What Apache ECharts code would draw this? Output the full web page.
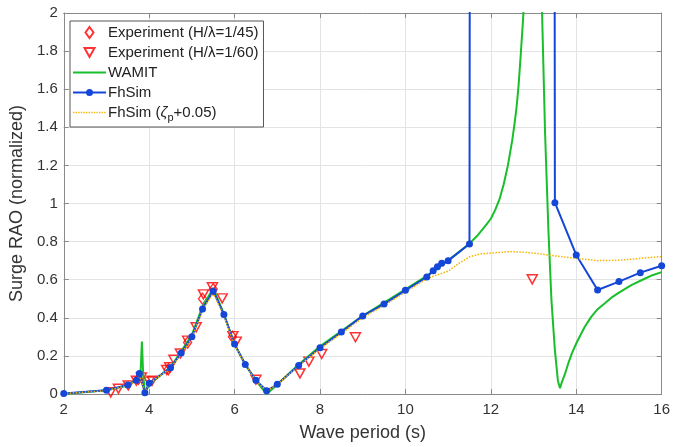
<!DOCTYPE html>
<html>
<head>
<meta charset="utf-8">
<script src="https://cdn.jsdelivr.net/npm/echarts@6/dist/echarts.min.js"></script>
<style>
  html, body { margin: 0; padding: 0; background: #fff; }
  #chart { width: 673px; height: 447px; }
</style>
</head>
<body>
<div id="chart"></div>
<script>
// experiments
const exp45T = [3.75, 4.45, 4.9, 5.25, 5.5, 5.95]
const exp45V = [0.08, 0.13, 0.27, 0.5, 0.55, 0.3]
const exp60T = [3.1, 3.28, 3.51, 3.7, 3.82, 4.0, 4.07, 4.41, 4.48, 4.58, 4.73, 4.9, 5.1, 5.27, 5.48, 5.71, 5.96, 6.04, 6.5, 7.53, 7.74, 8.04, 8.83, 12.97]
const exp60V = [0.009, 0.028, 0.045, 0.07, 0.087, 0.065, 0.07, 0.126, 0.14, 0.18, 0.213, 0.28, 0.35, 0.523, 0.56, 0.502, 0.304, 0.275, 0.075, 0.108, 0.17, 0.21, 0.298, 0.602]

// WAMIT
const wamitT = [2, 3, 3.5, 3.75, 3.8, 3.83, 3.86, 3.9, 4, 4.5, 5, 5.25, 5.5, 5.75, 6, 6.25, 6.5, 6.75, 7, 7.5, 8, 8.5, 9, 9.5, 10, 10.5, 11, 11.5, 11.7, 11.9, 12, 12.1, 12.2, 12.3, 12.4, 12.5, 12.55, 12.6, 12.65, 12.7, 12.75, 12.8, 12.9, 13, 13.1, 13.15, 13.2, 13.27, 13.35, 13.42, 13.5, 13.57, 13.62, 13.66, 13.74, 13.82, 13.9, 14, 14.1, 14.2, 14.35, 14.5, 14.67, 14.85, 15, 15.29, 15.6, 15.8, 16]
const wamitV = [0.0, 0.02, 0.045, 0.08, 0.12, 0.275, 0.1, 0.005, 0.05, 0.14, 0.31, 0.46, 0.555, 0.42, 0.26, 0.155, 0.07, 0.0, 0.05, 0.155, 0.25, 0.33, 0.41, 0.48, 0.55, 0.62, 0.7, 0.79, 0.835, 0.89, 0.92, 0.965, 1.02, 1.1, 1.2, 1.33, 1.41, 1.5, 1.62, 1.78, 1.95, 2.15, 3.2, 6, 3.2, 2.6, 2.0, 1.37, 0.85, 0.49, 0.23, 0.07, 0.03, 0.06, 0.108, 0.165, 0.215, 0.265, 0.31, 0.353, 0.405, 0.445, 0.476, 0.51, 0.532, 0.572, 0.605, 0.625, 0.64]

// FhSim
const fhT = [2, 3, 3.5, 3.7, 3.77, 3.9, 4, 4.5, 4.75, 5, 5.25, 5.5, 5.75, 6, 6.25, 6.5, 6.75, 7, 7.5, 8, 8.5, 9, 9.5, 10, 10.5, 10.65, 10.75, 10.85, 11, 11.5, 11.55, 13.45, 13.5, 14, 14.5, 15, 15.5, 16]
const fhV = [0.003, 0.02, 0.047, 0.072, 0.108, 0.007, 0.056, 0.138, 0.215, 0.3, 0.446, 0.541, 0.417, 0.262, 0.155, 0.072, 0.017, 0.051, 0.15, 0.243, 0.325, 0.41, 0.472, 0.544, 0.614, 0.647, 0.668, 0.686, 0.7, 0.787, 12, 12, 1.004, 0.73, 0.546, 0.59, 0.637, 0.673]

// FhSim (zeta_p + 0.05)
const fhzT = [2, 3, 3.5, 3.7, 3.77, 3.9, 4, 4.5, 4.75, 5, 5.25, 5.5, 5.75, 6, 6.25, 6.5, 6.75, 7, 7.5, 8, 8.5, 9, 9.5, 10, 10.5, 11, 11.25, 11.5, 11.75, 12, 12.5, 13, 13.5, 14, 14.5, 15, 15.5, 16]
const fhzV = [0.002, 0.018, 0.045, 0.07, 0.1, 0.008, 0.055, 0.135, 0.21, 0.295, 0.44, 0.53, 0.41, 0.258, 0.152, 0.07, 0.016, 0.05, 0.148, 0.238, 0.318, 0.4, 0.465, 0.535, 0.605, 0.645, 0.685, 0.72, 0.735, 0.74, 0.748, 0.74, 0.725, 0.712, 0.7, 0.702, 0.712, 0.722]

const zip = (a, b) => a.map((t, i) => [t, b[i]])

// legend icons (box 33 x 12)
const triDown = 'path://M0,0 L10,0 L5,9 Z'
const triDownLegend = 'path://M0,0 M33,12 M11.5,1.5 L21.5,1.5 L16.5,10.5 Z'
const diamondLegend = 'path://M0,0 M33,12 M16.5,0.5 L20.5,6 L16.5,11.5 L12.5,6 Z'
const solidLegend = 'path://M0,0 M33,12 M0,5 L33,5 L33,7 L0,7 Z'
const dotLineLegend = 'path://M0,0 M33,12 M0,5 L33,5 L33,7 L0,7 Z M13,6 A3.5,3.5 0 1,1 20,6 A3.5,3.5 0 1,1 13,6 Z'
let dots = 'path://M0,0 M33,12'
for (let x = 0; x < 33; x += 2.6) dots += ' M' + x + ',5.3 h1.4 v1.4 h-1.4 Z'
const dottedLegend = dots

const axisColor = '#8a8a8a'
const textColor = '#333'
const font = 'Liberation Sans, Arial, sans-serif'

const chart = echarts.init(document.getElementById('chart'))
chart.setOption({
    animation: false,
    textStyle: { fontFamily: font },
    grid: { left: 61, right: 9, top: 13, bottom: 53 },
    legend: {
        orient: 'vertical',
        left: 70,
        top: 21,
        padding: [4, 5, 4, 2],
        itemWidth: 33,
        itemHeight: 12,
        itemGap: 5,
        backgroundColor: '#fff',
        borderColor: '#555',
        borderWidth: 1,
        borderRadius: 0,
        textStyle: {
            fontSize: 15,
            color: '#222',
            padding: [0, 0, 0, -3],
            rich: {
                z: { fontSize: 15, fontStyle: 'italic', color: '#222' },
                s: { fontSize: 11, color: '#222', padding: [10, 0, 0, 0] }
            }
        },
        formatter: name => name === 'FhSim (zp)' ? 'FhSim ({z|ζ}{s|p}+0.05)' : name,
        data: [
            { name: 'Experiment (H/λ=1/45)', icon: diamondLegend },
            { name: 'Experiment (H/λ=1/60)', icon: triDownLegend },
            { name: 'WAMIT', icon: solidLegend, itemStyle: { borderWidth: 0 } },
            { name: 'FhSim', icon: dotLineLegend, itemStyle: { borderWidth: 0 } },
            { name: 'FhSim (zp)', icon: dottedLegend, itemStyle: { borderWidth: 0 } }
        ]
    },
    xAxis: [{
        type: 'value',
        min: 2,
        max: 16,
        interval: 2,
        name: 'Wave period (s)',
        nameLocation: 'middle',
        nameGap: 30,
        nameTextStyle: { fontSize: 18, color: textColor },
        axisLine: { onZero: false, lineStyle: { color: axisColor } },
        axisTick: { inside: true, length: 5, lineStyle: { color: axisColor } },
        axisLabel: { fontSize: 15, color: textColor, margin: 8 },
        splitLine: { show: true, lineStyle: { color: '#e3e3e3' } }
    }, {
        type: 'value',
        position: 'top',
        min: 2,
        max: 16,
        interval: 2,
        axisLine: { onZero: false, lineStyle: { color: axisColor } },
        axisTick: { inside: true, length: 5, lineStyle: { color: axisColor } },
        axisLabel: { show: false },
        splitLine: { show: false }
    }],
    yAxis: [{
        type: 'value',
        min: 0,
        max: 2,
        interval: 0.2,
        name: 'Surge RAO (normalized)',
        nameLocation: 'middle',
        nameGap: 33,
        nameTextStyle: { fontSize: 18, color: textColor },
        axisLine: { show: true, onZero: false, lineStyle: { color: axisColor } },
        axisTick: { show: true, inside: true, length: 5, lineStyle: { color: axisColor } },
        axisLabel: { fontSize: 15, color: textColor, margin: 6, formatter: v => String(+v.toFixed(1)) },
        splitLine: { show: true, lineStyle: { color: '#e3e3e3' } }
    }, {
        type: 'value',
        position: 'right',
        min: 0,
        max: 2,
        interval: 0.2,
        axisLine: { show: true, onZero: false, lineStyle: { color: axisColor } },
        axisTick: { show: true, inside: true, length: 5, lineStyle: { color: axisColor } },
        axisLabel: { show: false },
        splitLine: { show: false }
    }],
    series: [
        {
            name: 'Experiment (H/λ=1/45)',
            type: 'scatter',
            symbol: 'diamond',
            symbolSize: [8, 11],
            itemStyle: { color: 'rgba(0,0,0,0)', borderColor: '#ff0000', borderWidth: 1.5 },
            data: zip(exp45T, exp45V)
        },
        {
            name: 'Experiment (H/λ=1/60)',
            type: 'scatter',
            symbol: triDown,
            symbolSize: [10, 9],
            itemStyle: { color: 'rgba(0,0,0,0)', borderColor: '#ff0000', borderWidth: 1.5 },
            data: zip(exp60T, exp60V)
        },
        {
            name: 'WAMIT',
            type: 'line',
            symbol: 'none',
            color: '#19bf2a',
            lineStyle: { width: 2, color: '#19bf2a' },
            data: zip(wamitT, wamitV)
        },
        {
            name: 'FhSim',
            type: 'line',
            symbol: 'circle',
            symbolSize: 7,
            color: '#1446d8',
            itemStyle: { color: '#1446d8' },
            lineStyle: { width: 2, color: '#1446d8' },
            data: zip(fhT, fhV)
        },
        {
            name: 'FhSim (zp)',
            type: 'line',
            symbol: 'none',
            color: '#f5b400',
            lineStyle: { width: 1.5, type: 'dotted', color: '#f5b400' },
            data: zip(fhzT, fhzV)
        }
    ]
})
</script>
</body>
</html>
